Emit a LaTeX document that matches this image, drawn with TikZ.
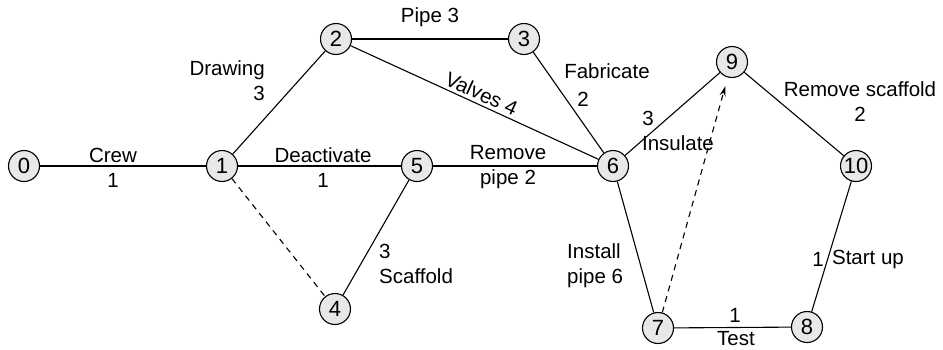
\documentclass[tikz,border=0pt]{standalone}
\usepackage{fontspec}
\setmainfont{Liberation Sans}
\usetikzlibrary{arrows.meta}
\tikzset{
  ev/.style={circle, draw=black, line width=1.1pt, fill=gray!18, minimum size=31pt, inner sep=0pt, font=\fontsize{22}{24}\selectfont},
  act/.style={line width=1.1pt, draw=black},
  dum/.style={line width=1.1pt, draw=black, dashed, dash pattern=on 6pt off 5pt},
  lbl/.style={inner sep=0pt, font=\fontsize{20.5}{25}\selectfont},
}
\begin{document}
\begin{tikzpicture}[x=1pt,y=-1pt]
\useasboundingbox (0,0) rectangle (943,349);
\node[ev] (n0) at (24,166) {0};
\node[ev] (n1) at (222,166) {1};
\node[ev] (n2) at (336,39) {2};
\node[ev] (n3) at (524,39) {3};
\node[ev] (n4) at (335,309) {4};
\node[ev] (n5) at (417,166) {5};
\node[ev] (n6) at (613,166) {6};
\node[ev] (n7) at (658,328) {7};
\node[ev] (n8) at (807,327) {8};
\node[ev] (n9) at (732,62) {9};
\node[ev] (n10) at (856,166) {10};

\draw[act] (n0) -- (n1);
\draw[act] (n1) -- (n2);
\draw[act] (n2) -- (n3);
\draw[act] (n2) -- node[lbl, sloped, above=3pt, pos=0.51] {Valves 4} (n6);
\draw[act] (n1) -- (n5);
\draw[act] (n5) -- (n6);
\draw[act] (n3) -- (n6);
\draw[act] (n6) -- (n9);
\draw[act] (n9) -- (n10);
\draw[act] (n10) -- (n8);
\draw[act] (n7) -- (n8);
\draw[act] (n6) -- (n7);
\draw[act] (n5) -- (n4);
\draw[dum] (n1) -- (n4);
\draw[dum, -{Stealth[length=10pt,width=6pt]}, shorten >=9pt] (n7) -- (n9);

\node[lbl] (lcrew) at (113,155) {Crew};
\node[lbl] (lcrew1) at (113,180) {1};
\node[lbl, anchor=east, align=right] (ldraw) at (265,81) {Drawing\\3};
\node[lbl] (ldeact) at (323,155) {Deactivate};
\node[lbl] (ldeact1) at (323,180) {1};
\node[lbl] (lpipe) at (430,17) {Pipe 3};
\node[lbl, anchor=west, align=left] (lscaf) at (379,264) {3\\Scaffold};
\node[lbl, align=center] (lrem) at (508,167) {Remove\\pipe 2};
\node[lbl] (lfab) at (607,71) {Fabricate};
\node[lbl] (lfab2) at (583,99) {2};
\node[lbl] (lins3) at (648,118) {3};
\node[lbl] (lins) at (678,143) {Insulate};
\node[lbl, align=center] (lrs) at (860,102) {Remove scaffold\\2};
\node[lbl, anchor=west, align=left] (linst) at (567,266) {Install\\pipe 6};
\node[lbl] (lsu1) at (818,259) {1};
\node[lbl] (lsu) at (868,259) {Start up};
\node[lbl] (ltest1) at (735,315) {1};
\node[lbl] (ltest) at (736,339) {Test};
\end{tikzpicture}
\end{document}
